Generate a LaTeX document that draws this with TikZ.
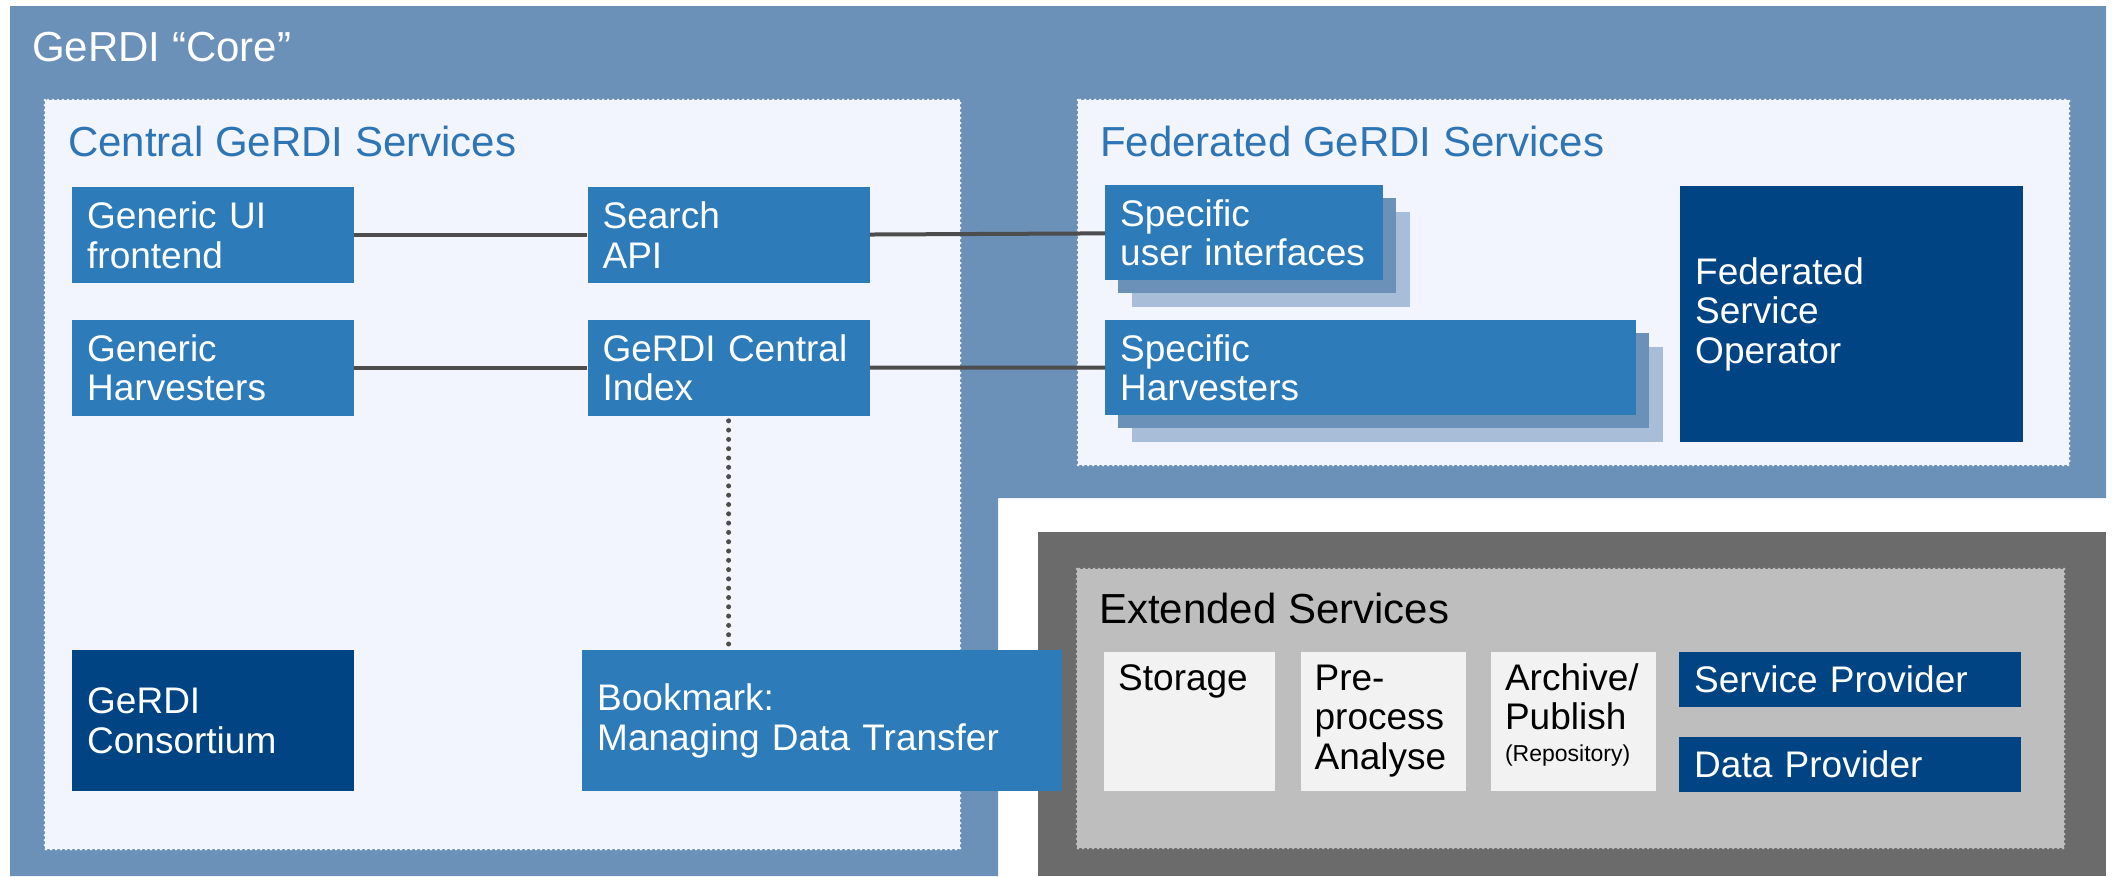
\documentclass[tikz,border=0pt]{standalone}
\usepackage{fontspec}
\setmainfont{Liberation Sans}
\usetikzlibrary{positioning,shadows}

\definecolor{coreblue}{RGB}{108,145,185}
\definecolor{paleblue}{RGB}{242,245,253}
\definecolor{midblue}{RGB}{46,123,185}
\definecolor{darkblue}{RGB}{0,68,131}
\definecolor{shadeblue}{RGB}{168,190,216}
\definecolor{headblue}{RGB}{46,117,182}
\definecolor{outergray}{RGB}{107,107,107}
\definecolor{innergray}{RGB}{190,190,190}
\definecolor{tilegray}{RGB}{242,242,242}
\definecolor{linkgray}{RGB}{77,77,77}

\begin{document}
\begin{tikzpicture}[x=1pt, y=-1pt, node distance=36pt,
  body/.style={font=\fontsize{37}{39.5}\selectfont},
  head/.style={font=\fontsize{42}{46}\selectfont, inner sep=0pt, anchor=base west},
  group box/.style={fill=#1, draw=#1, line width=3pt, line cap=round, dash pattern=on 0pt off 5pt},
  svc/.style={body, fill=midblue, text=white, align=left, inner xsep=15pt, inner ysep=0pt, anchor=north west, minimum height=96pt},
  dark svc/.style={svc, fill=darkblue},
  tile/.style={body, fill=tilegray, text=black, align=left, inner xsep=14pt, inner ysep=0pt, anchor=north west, text height=38pt, text depth=101pt},
  stack/.style={general shadow={shadow xshift=27pt, shadow yshift=-27pt, fill=shadeblue}, general shadow={shadow xshift=13pt, shadow yshift=-13pt, fill=coreblue}},
  link/.style={draw=linkgray, line width=4pt},
  dots/.style={draw=linkgray, line width=5pt, line cap=round, dash pattern=on 0pt off 9.3pt, shorten <=5pt, shorten >=5pt}]

  \useasboundingbox (0,0) rectangle (2112,876);

  % Backdrop
  \fill[coreblue] (10,6) -- (2106,6) -- (2106,498) -- (998,498) -- (998,876) -- (10,876) -- cycle;
  \fill[outergray] (1038,532) rectangle (2106,876);
  \path[group box=paleblue] (45,100) rectangle (960,849);
  \path[group box=paleblue] (1078,100) rectangle (2069,465);
  \path[group box=innergray] (1077,569) rectangle (2064,848);

  % Headings
  \node[head, text=white] (corelbl) at (32,61) {GeRDI “Core”};
  \node[head, text=headblue] (centrallbl) at (68,156) {Central GeRDI Services};
  \node[head, text=headblue] (fedlbl) at (1100,156) {Federated GeRDI Services};
  \node[head, text=black] (extlbl) at (1099,623) {Extended Services};

  % Central services
  \node[svc, text width=252pt] (gui) at (72,187) {Generic UI\\frontend};
  \node[svc, text width=252pt] (search) [right=233pt of gui] {Search\\API};
  \node[svc, text width=252pt] (harv) [below=of gui] {Generic\\Harvesters};
  \node[svc, text width=252pt] (cidx) [below=of search] {GeRDI Central\\Index};
  \node[dark svc, text width=252pt, minimum height=141pt] (consort) at (72,650) {GeRDI\\Consortium};
  \node[svc, text width=450pt, minimum height=141pt] (bm) at (582,650) {Bookmark:\\Managing Data Transfer};

  % Federated services
  \node[svc, stack, text width=248pt, minimum height=95pt] (spui) at (1105,185) {Specific\\user interfaces};
  \node[svc, stack, text width=501pt, minimum height=95pt] (sharv) at (1105,320) {Specific\\Harvesters};
  \node[dark svc, text width=313pt, minimum height=256pt] (fso) at (1680,186) {Federated\\Service\\Operator};

  % Extended services
  \node[tile, text width=143pt] (storage) at (1104,652) {Storage};
  \node[tile, text width=137pt] (prep) [right=25pt of storage] {Pre-\\process\\Analyse};
  \node[tile, text width=137pt] (archive) [right=25pt of prep] {Archive/\\Publish\\[-8pt]{\fontsize{23}{26}\selectfont (Repository)}};
  \node[dark svc, text width=312pt, minimum height=55pt] (sprov) at (1679,652) {Service Provider};
  \node[dark svc, text width=312pt, minimum height=55pt] (dprov) [below=29pt of sprov] {Data Provider};

  % Connections
  \draw[link] (gui) -- (search);
  \draw[link] (search) -- (spui);
  \draw[link] (harv) -- (cidx);
  \draw[link] (cidx) -- (sharv);
  \draw[dots] (cidx.south) -- (cidx.south |- bm.north);
\end{tikzpicture}
\end{document}
